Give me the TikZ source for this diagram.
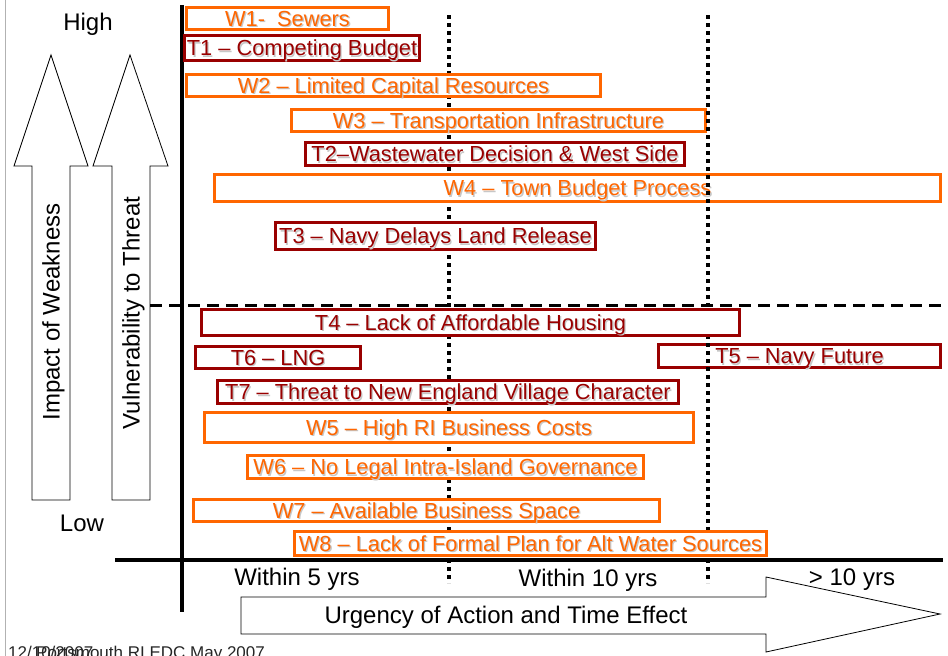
\documentclass[tikz,border=0pt]{standalone}
\usepackage{fontspec}
\setmainfont{Liberation Sans}
\definecolor{worange}{HTML}{FF6600}
\definecolor{tred}{HTML}{990000}
\newcommand{\shtext}[1]{\leavevmode\rlap{\kern1.3pt\raisebox{-1.3pt}{\textcolor{black!22}{#1}}}#1}
\newcommand{\bx}[7]{\node[#6, minimum width={#4-#2-3}, minimum height={#5-#3-3}] (#1) at ({(#2+#4)/2},{(#3+#5)/2}) {\shtext{#7}};}
\begin{document}
\begin{tikzpicture}[x=1pt,y=-1pt,
  wbox/.style={draw=worange, fill=white, line width=3pt, text=worange, inner sep=0pt, text height=15.5pt, text depth=0pt, font=\fontsize{21.8}{24}\selectfont},
  tbox/.style={wbox, draw=tred, text=tred},
  lbl/.style={font=\fontsize{24}{28}\selectfont, inner sep=0pt, anchor=base},
  axisline/.style={line width=3.5pt},
  dotline/.style={line width=3.5pt, dash pattern=on 4pt off 4pt},
  dashline/.style={line width=3pt, dash pattern=on 12pt off 7pt},
  bigarrow/.style={draw=black, fill=white, line width=0.8pt, line join=miter}
]
\useasboundingbox (0,0) rectangle (948,656);
\fill[white] (0,0) rectangle (948,656);
\draw[black!30, line width=1pt] (5,0) -- (5,656);

% left vertical arrows
\draw[bigarrow] (32,500) -- (32,166) -- (14,166) -- (51,55) -- (88,166) -- (70,166) -- (70,500) -- cycle;
\draw[bigarrow] (112,500) -- (112,166) -- (93,166) -- (130,55) -- (168,166) -- (150,166) -- (150,500) -- cycle;
\node[lbl, rotate=90] (impact) at (59.5,312) {Impact of Weakness};
\node[lbl, rotate=90] (vuln) at (139.6,313) {Vulnerability to Threat};

% bottom arrow
\draw[bigarrow] (241,597) -- (766,597) -- (766,577) -- (940,614) -- (766,652) -- (766,634) -- (241,634) -- cycle;
\node[lbl] (urg) at (506,623.6) {Urgency of Action and Time Effect};

% axes
\coordinate (vtop) at (182,5);
\coordinate (vbot) at (182,612);
\coordinate (hleft) at (115,560);
\coordinate (hright) at (943,560);
\draw[axisline] (vtop) -- (vbot);
\draw[axisline] (hleft) -- (hright);

% 5 yr dotted line (behind boxes)
\coordinate (d5top) at (449,15);
\coordinate (d5bot) at (449,583);
\draw[dotline] (d5top) -- (d5bot);

% boxes
\bx{w1}{185}{6}{390}{31}{wbox}{W1-\ \ Sewers}
\bx{t1}{183}{34}{421}{62}{tbox}{T1 -- Competing Budget}
\bx{w2}{185}{73}{602}{98}{wbox}{W2 -- Limited Capital Resources}
\bx{w3}{290}{108}{707}{133}{wbox}{W3 -- Transportation Infrastructure}
\bx{t2}{304}{141}{686}{167}{tbox}{T2--Wastewater Decision \& West Side}
\bx{w4}{213}{173}{942}{203}{wbox}{W4 -- Town Budget Process}
\bx{t3}{274}{221}{597}{251}{tbox}{T3 -- Navy Delays Land Release}
\bx{t5}{657}{343}{942}{369}{tbox}{T5 -- Navy Future}

% 10 yr dotted line
\coordinate (d10top) at (708,15);
\coordinate (d10bot) at (708,583);
\draw[dotline] (d10top) -- (d10bot);

\bx{t4}{200}{308}{741}{337}{tbox}{T4 -- Lack of Affordable Housing}
\bx{t6}{194}{345}{362}{370}{tbox}{T6 -- LNG}
\bx{t7}{216}{379}{680}{405}{tbox}{T7 -- Threat to New England Village Character}
\bx{w5}{203}{411}{695}{444}{wbox}{W5 -- High RI Business Costs}
\bx{w6}{246}{454}{645}{480}{wbox}{W6 -- No Legal Intra-Island Governance}
\bx{w7}{192}{498}{661}{523}{wbox}{W7 -- Available Business Space}
\bx{w8}{293}{530}{768}{557}{wbox}{W8 -- Lack of Formal Plan for Alt Water Sources}

% dashed divider
\coordinate (dl) at (150,305);
\coordinate (dr) at (948,305);
\draw[dashline] (dl) -- (dr);

% labels
\node[lbl] (high) at (88,30) {High};
\node[lbl] (low) at (82,531) {Low};
\node[lbl] (y5) at (297,585) {Within 5 yrs};
\node[lbl] (y10) at (588,586) {Within 10 yrs};
\node[lbl] (y10p) at (852,585) {> 10 yrs};

% footer
\node[anchor=base west, inner sep=0pt, font=\fontsize{17}{20}\selectfont, text=black!85] (date) at (8,658) {12/10/2007};
\node[anchor=base west, inner sep=0pt, font=\fontsize{17}{20}\selectfont, text=black!85] (foot) at (36,658) {Portsmouth RI EDC May 2007};
\end{tikzpicture}
\end{document}
